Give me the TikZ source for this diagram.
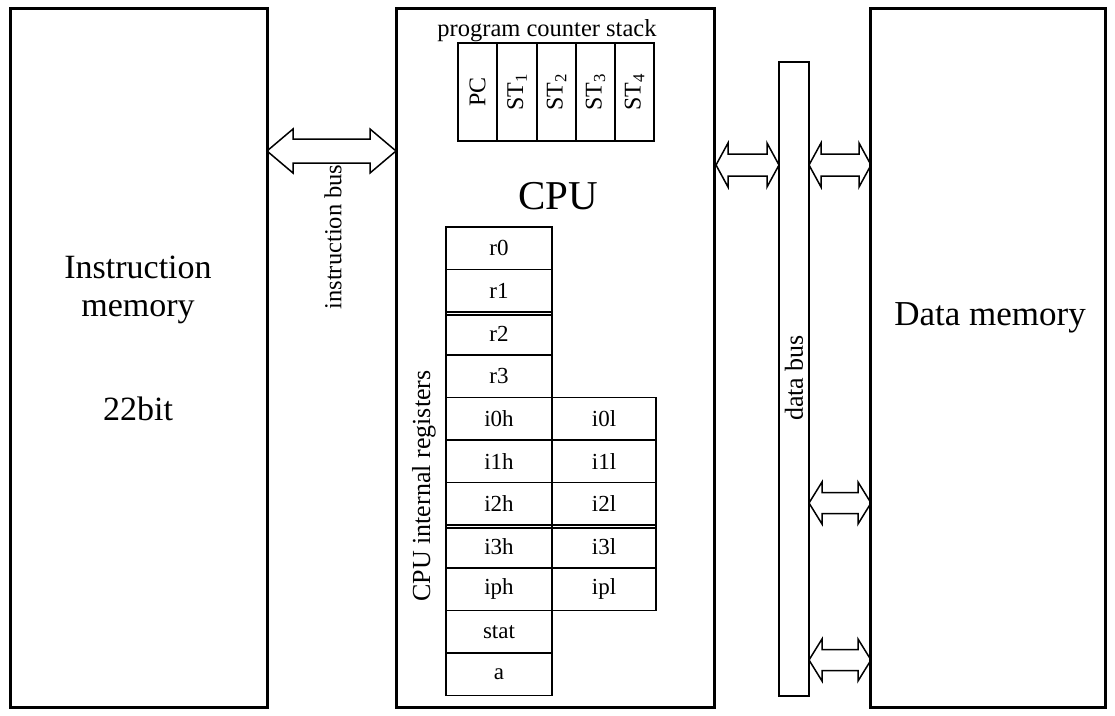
\documentclass[tikz,border=0pt]{standalone}
\usepackage{fontspec}
\setmainfont{Liberation Serif}
\newcommand{\fs}[1]{\fontsize{#1}{#1}\selectfont}
\newcommand{\dbarrow}[6]{%
  \draw[thinline] (#1,#3) -- ({#1+#6},{#3-#5}) -- ({#1+#6},{#3-#4}) -- ({#2-#6},{#3-#4}) -- ({#2-#6},{#3-#5}) -- (#2,#3)
   -- ({#2-#6},{#3+#5}) -- ({#2-#6},{#3+#4}) -- ({#1+#6},{#3+#4}) -- ({#1+#6},{#3+#5}) -- cycle;}
\begin{document}
\begin{tikzpicture}[x=1pt,y=-1pt,
  bigbox/.style={draw,line width=3pt,inner sep=0pt,outer sep=0pt},
  thinline/.style={line width=1.5pt,line join=miter},
  cell/.style={draw,line width=1.6pt,inner sep=0pt,outer sep=0pt,minimum width=106pt,minimum height=42.6pt,font=\fs{23}},
  pcell/.style={draw,line width=1.6pt,inner sep=0pt,outer sep=0pt,minimum width=39pt,minimum height=98pt},
  ptext/.style={rotate=90,font=\fs{24}},
  lbl/.style={font=\fs{34},align=center},
]
\useasboundingbox (0,0) rectangle (1115,715);
% main boxes
\node[bigbox,minimum width=257pt,minimum height=699pt] (imem) at (138.5,357.5) {};
\node[bigbox,minimum width=318pt,minimum height=699pt] (cpu) at (555,357.5) {};
\node[bigbox,minimum width=235pt,minimum height=699pt] (dmem) at (987.5,357.5) {};
\node[draw,line width=1.5pt,minimum width=30pt,minimum height=634pt,inner sep=0pt] (dbus) at (794,379) {};
% labels
\node[lbl] (imemlbl) at (138,290) {Instruction\\[4pt]memory};
\node[lbl] (bits) at (138,409) {22bit};
\node[lbl,font=\fs{35}] (dmemlbl) at (990,318) {Data memory};
\node[font=\fs{41}] (cpulbl) at (558,196) {CPU};
\node[rotate=90,font=\fs{26}] (dbuslbl) at (794,378) {data bus};
\node[rotate=90,font=\fs{24.5}] (ibuslbl) at (333,237) {instruction bus};
\node[rotate=90,font=\fs{26}] (reglbl) at (424,486) {CPU internal registers};
% program counter stack
\node[font=\fs{24.5}] (pcslbl) at (547,31) {program counter stack};
\node[pcell] (pc) at (477.5,92) {};
\node[pcell] (st1) at (517,92) {};
\node[pcell] (st2) at (556.5,92) {};
\node[pcell] (st3) at (595.5,92) {};
\node[pcell] (st4) at (634.5,92) {};
\node[ptext] at (pc) {PC};
\node[ptext] at (st1) {ST\textsubscript{1}};
\node[ptext] at (st2) {ST\textsubscript{2}};
\node[ptext] at (st3) {ST\textsubscript{3}};
\node[ptext] at (st4) {ST\textsubscript{4}};
% registers
\foreach \n/\t [count=\k from 0] in {r0/r0,r1/r1,r2/r2,r3/r3,i0h/i0h,i1h/i1h,i2h/i2h,i3h/i3h,iph/iph,stat/stat,a/a}{
  \node[cell] (\n) at (499,{248.3+\k*42.6}) {\t};
}
\foreach \n/\t [count=\k from 4] in {i0l/i0l,i1l/i1l,i2l/i2l,i3l/i3l,ipl/ipl}{
  \node[cell,minimum width=104pt] (\n) at (604,{248.3+\k*42.6}) {\t};
}
% doubled seams between register groups
\draw[line width=1.4pt] ([yshift=-2.6pt]r1.south west) -- ([yshift=-2.6pt]r1.south east);
\draw[line width=1.4pt] ([yshift=-2.6pt]i2h.south west) -- ([yshift=-2.6pt]i2l.south east);
% buses
\dbarrow{267}{396}{151}{12}{22}{26}
\dbarrow{716}{779}{165}{11}{22}{12}
\dbarrow{809}{871}{165}{11}{22}{12}
\dbarrow{809}{871}{503}{10.5}{21}{13}
\dbarrow{809}{871}{660}{10.5}{21}{13}
\end{tikzpicture}
\end{document}
